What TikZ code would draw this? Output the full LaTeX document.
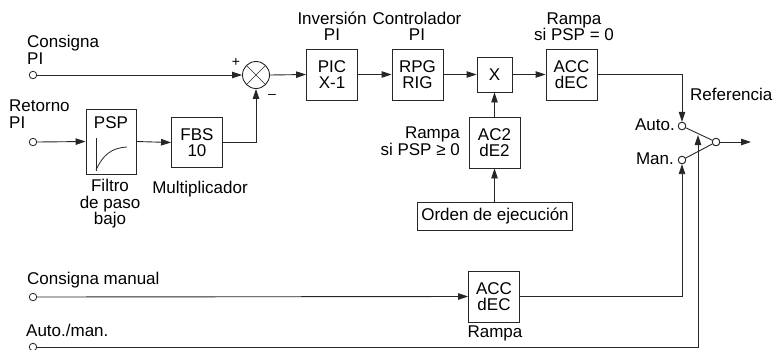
\documentclass[tikz,border=0pt]{standalone}
\usepackage{fontspec}
\setmainfont{Liberation Sans}
\usetikzlibrary{arrows.meta}
\newcommand\lblfont{\fontsize{17}{16.5}\selectfont}
\colorlet{lc}{black!85}
\tikzset{
  blk/.style={draw=lc, line width=0.9pt, minimum width=51pt, minimum height=51pt, inner sep=0pt, align=center, font=\lblfont},
  lbl/.style={inner sep=0pt, font=\lblfont},
  term/.style={circle, draw=lc, fill=white, line width=0.8pt, minimum size=7.5pt, inner sep=0pt},
  conn/.style={draw=lc, line width=0.9pt},
  arr/.style={conn, -{Triangle[length=10pt,width=6.5pt]}},
}
\begin{document}
\begin{tikzpicture}[x=1pt,y=-1pt]
\useasboundingbox (0,0) rectangle (777,349);

% terminals
\node[term] (cinT) at (33,75) {};
\node[term] (rinT) at (33,142) {};
\node[term] (cmT) at (33,297) {};
\node[term] (amT) at (33,347) {};
\node[term] (autoT) at (682,126) {};
\node[term] (manT) at (682,160) {};
\node[term] (outT) at (716,142) {};
\coordinate (outEnd) at (751,142);
\coordinate (swArr) at (698,135);

% summing junction
\node[circle, draw=lc, line width=0.9pt, minimum size=27pt, inner sep=0pt] (sum) at (256,75) {};
\draw[draw=lc, line width=0.6pt] (sum.45) -- (sum.225) (sum.135) -- (sum.315);
\node[lbl, font=\fontsize{14}{14}\selectfont] (plus) at (236,62) {+};
\node[lbl, font=\fontsize{14}{14}\selectfont] (minus) at (272,96) {–};

% blocks
\node[blk] (pic) at (332,74.5) {PIC\\X-1};
\node[blk] (rpg) at (417.5,74.5) {RPG\\RIG};
\node[blk, minimum width=35pt, minimum height=35pt] (xb) at (494.5,74.5) {X};
\node[blk] (acc) at (571.5,74.5) {ACC\\dEC};
\node[blk, minimum width=50pt, minimum height=65pt] (psp) at (111,141.5) {};
\node[lbl] (psplbl) at (111,122.5) {PSP};
\draw[draw=lc, line width=0.8pt] (96,138) -- (96,171);
\draw[draw=lc, line width=0.8pt] (96,170) .. controls (103,155) and (111,148) .. (127,147);
\node[blk, minimum height=50pt] (fbs) at (197,142.5) {FBS\\10};
\node[blk] (ac2) at (494.5,142.5) {AC2\\dE2};
\node[blk, minimum width=155pt, minimum height=28pt] (orden) at (495,216) {Orden de ejecución};
\node[blk] (acc2) at (494,296.5) {ACC\\dEC};

% labels
\node[lbl, align=left, anchor=north west] (lcin) at (27,35) {Consigna\\PI};
\node[lbl, align=left, anchor=north west] (lrin) at (9,100) {Retorno\\PI};
\node[lbl, align=center, anchor=north] (lfil) at (110,179) {Filtro\\de paso\\bajo};
\node[lbl, anchor=north] (lmul) at (200,181) {Multiplicador};
\node[lbl, align=center, anchor=south] (linv) at (332,41) {Inversión\\PI};
\node[lbl, align=center, anchor=south] (lctl) at (417,41) {Controlador\\PI};
\node[lbl, align=center, anchor=south] (lram1) at (574,41) {Rampa\\si PSP = 0};
\node[lbl, align=right, anchor=north east] (lram2) at (460,127) {Rampa\\si PSP ≥ 0};
\node[lbl, anchor=base west] (lref) at (690,100) {Referencia};
\node[lbl, anchor=east] (lauto) at (675,125) {Auto.};
\node[lbl, anchor=east] (lman) at (674,159) {Man.};
\node[lbl, anchor=base west] (lcm) at (27,284) {Consigna manual};
\node[lbl, anchor=north] (lram3) at (495,326) {Rampa};
\node[lbl, anchor=base west] (lam) at (26,336) {Auto./man.};

% connectors
\draw[arr] (cinT.east) -- (sum.west);
\draw[arr] (rinT.east) -- (psp.west);
\draw[arr] (psp.east) -- (fbs.west);
\draw[arr] (fbs.east) -| (sum.south);
\draw[arr] (sum.east) -- (pic.west);
\draw[arr] (pic.east) -- (rpg.west);
\draw[arr] (rpg.east) -- (xb.west);
\draw[arr] (xb.east) -- (acc.west);
\draw[arr] (acc.east) -| (autoT.north);
\draw[arr] (ac2.north) -- (xb.south);
\draw[arr] (orden.north -| ac2.south) -- (ac2.south);
\draw[arr] (cmT.east) -- (acc2.west);
\draw[arr] (acc2.east) -| (manT.south);
\draw[arr] (amT.east) -| (swArr);
\draw[conn] (autoT) -- (outT);
\draw[conn] (manT) -- (outT);
\draw[arr] (outT.east) -- (outEnd);
% redraw terminals on top
\node[term] at (autoT) {};
\node[term] at (manT) {};
\node[term] at (outT) {};
\end{tikzpicture}
\end{document}
